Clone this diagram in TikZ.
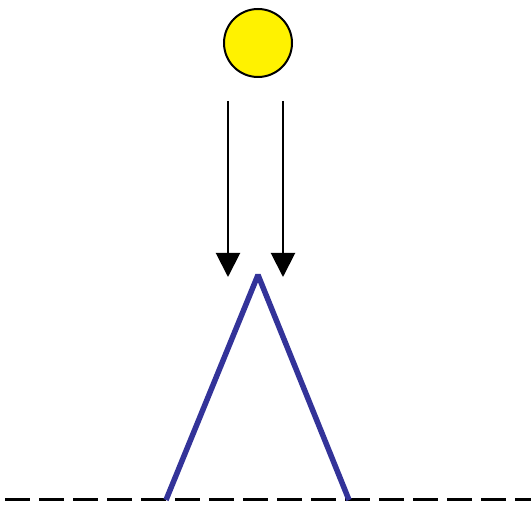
\documentclass[tikz,border=0pt]{standalone}
\usetikzlibrary{arrows.meta}
\definecolor{mtn}{HTML}{333399}
\begin{document}
\begin{tikzpicture}[x=1pt,y=-1pt,
  sunstyle/.style={circle,draw=black,line width=2pt,fill=yellow,minimum size=68pt,inner sep=0pt},
  ray/.style={line width=2pt,-{Triangle[length=24pt,width=24pt]}},
  mountain/.style={draw=mtn,line width=5.5pt,line join=bevel},
  ground/.style={line width=3pt,dash pattern=on 25pt off 9pt}]
\useasboundingbox (0,0) rectangle (531,505);
\node[sunstyle] (sun) at (258,43) {};
\coordinate (r1s) at (228,101);
\coordinate (r1e) at (228,277);
\coordinate (r2s) at (283,101);
\coordinate (r2e) at (283,277);
\draw[ray] (r1s) -- (r1e);
\draw[ray] (r2s) -- (r2e);
\coordinate (ml) at (166,500);
\coordinate (mp) at (258,275);
\coordinate (mr) at (349,500);
\coordinate (g1) at (5,500);
\coordinate (g2) at (531,500);
\draw[ground] (g1) -- (g2);
\draw[mountain] (ml) -- (mp) -- (mr);
\end{tikzpicture}
\end{document}
